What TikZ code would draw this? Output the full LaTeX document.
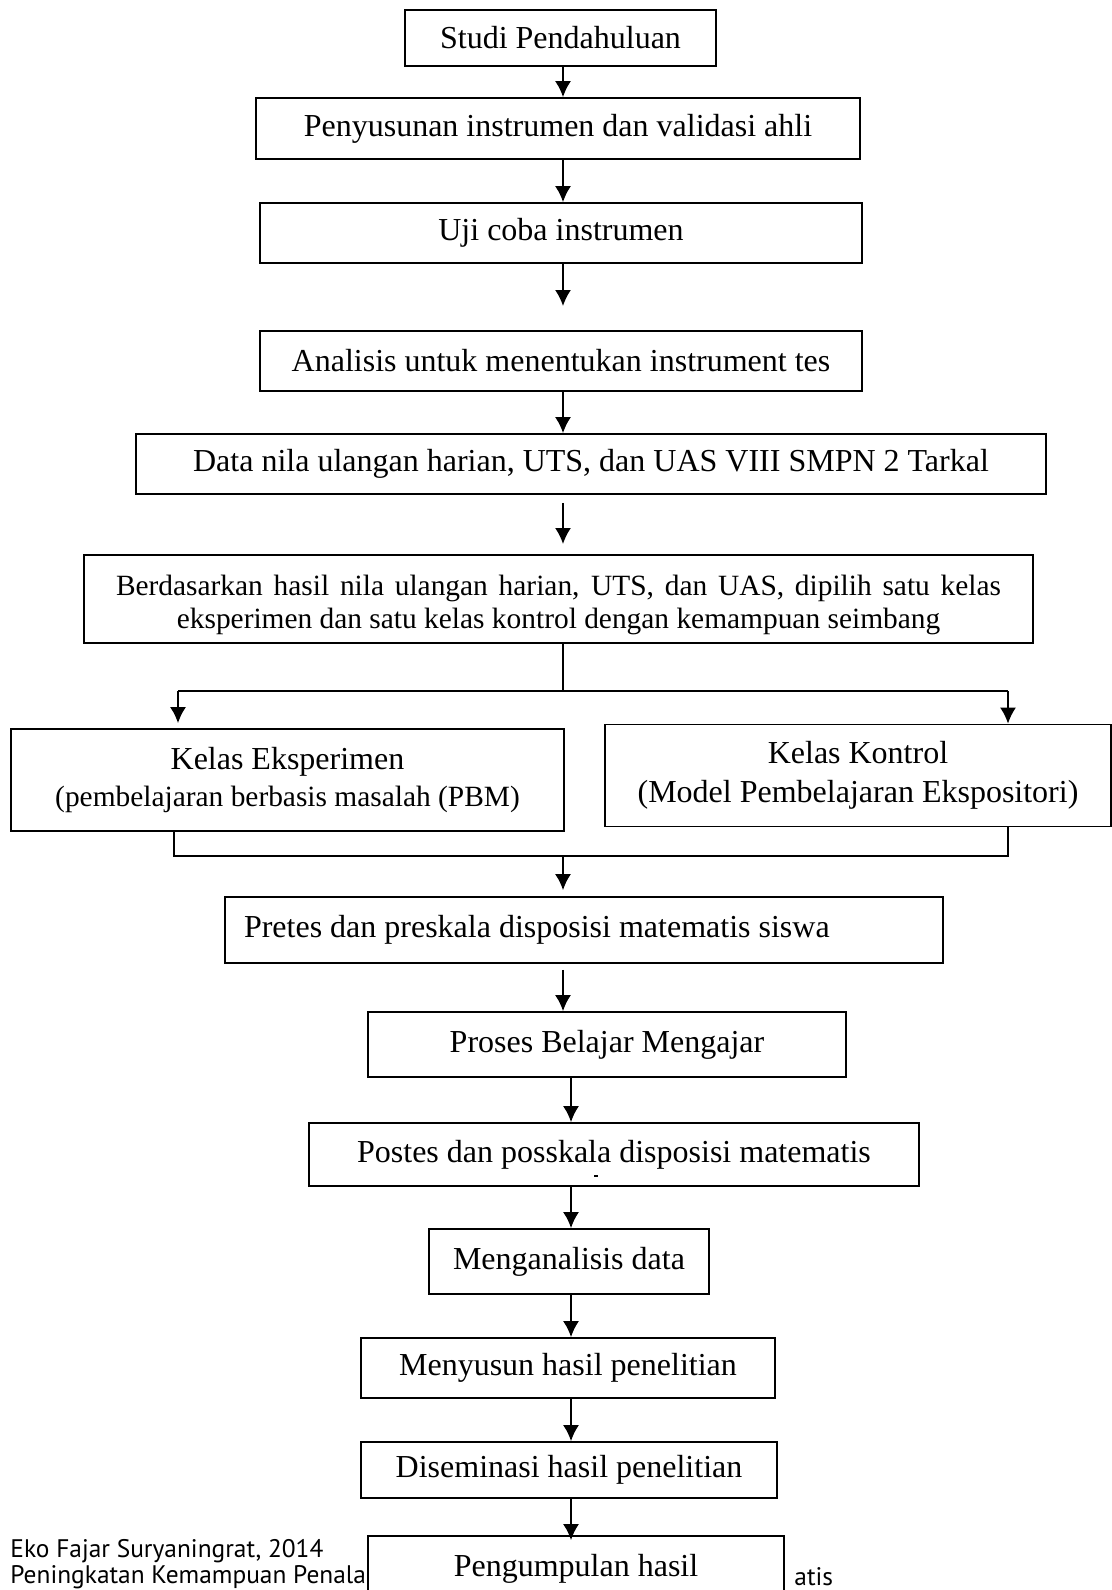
\documentclass[tikz,border=0pt]{standalone}
\usepackage{fontspec}
\setmainfont{Liberation Serif}
\newfontfamily\footfont{PT Sans}
\usepackage{tikz}
\usetikzlibrary{arrows.meta}
\tikzstyle{box} = [draw, line width=0.9pt, fill=white, inner sep=0pt, align=center, font=\fontsize{16}{19}\selectfont]
\tikzstyle{arrow} = [-{Latex[length=8pt,width=8pt]}, line width=0.9pt]
\tikzstyle{line} = [line width=0.9pt]
\tikzstyle{foot} = [anchor=west, inner sep=0pt, font=\footfont\fontsize{12.7}{15}\selectfont]
\newcommand{\smallfs}{\fontsize{14.7}{16.5}\selectfont}

\begin{document}
\begin{tikzpicture}[x=0.5pt, y=-0.5pt]
\useasboundingbox (0,0) rectangle (1112,1590);
\coordinate (spineA) at (563,0);
\coordinate (spineB) at (571,0);
% footer (partly covered by the last box)
\node[foot] (foot1) at (10,1551) {Eko Fajar Suryaningrat, 2014};
\node[foot] (foot2) at (10,1577) {Peningkatan Kemampuan Penalar};
\node[foot] (foot3) at (794,1577) {atis};
% boxes
\node[box, minimum width=155.5pt, minimum height=28pt] (studi) at (560.5,38) {Studi Pendahuluan};
\node[box, minimum width=302pt, minimum height=30.5pt] (susun) at (558,128.5) {Penyusunan instrumen dan validasi ahli};
\node[box, minimum width=301pt, minimum height=30pt] (ujicoba) at (561,233) {Uji coba instrumen};
\node[box, minimum width=301pt, minimum height=30pt] (analisis) at (561,361) {Analisis untuk menentukan instrument tes};
\node[box, minimum width=455pt, minimum height=30pt] (data) at (591,464) {Data nila ulangan harian, UTS, dan UAS VIII SMPN 2 Tarkal};
\node[box, minimum width=474.5pt, minimum height=44pt, font=\smallfs] (pilih) at (558.5,599) {\raisebox{-3pt}[\height][\depth]{\begin{tabular}{@{}c@{}}\makebox[442.5pt][s]{Berdasarkan hasil nila ulangan harian, UTS, dan UAS, dipilih satu kelas}\\eksperimen dan satu kelas kontrol dengan kemampuan seimbang\end{tabular}}};
\node[box, minimum width=276.5pt, minimum height=51pt] (eksp) at (287.5,780) {Kelas Eksperimen\\[-0.5pt]{\smallfs (pembelajaran berbasis masalah (PBM)}};
\node[box, minimum width=253pt, minimum height=51pt] (kontrol) at (858,775.5) {Kelas Kontrol\\[0.5pt](Model Pembelajaran Ekspositori)};
\node[box, align=flush left, text width=340pt, inner xsep=9.5pt, minimum height=33pt] (pretes) at (584,930) {Pretes dan preskala disposisi matematis siswa};
\node[box, minimum width=239pt, minimum height=32.5pt] (proses) at (607,1044.5) {Proses Belajar Mengajar};
\node[box, minimum width=305pt, minimum height=31.5pt] (postes) at (614,1154.5) {Postes dan posskala disposisi matematis};
\node[box, minimum width=140pt, minimum height=32.5pt] (analisa) at (569,1261.5) {Menganalisis data};
\node[box, minimum width=207pt, minimum height=30pt] (menyusun) at (568,1368) {Menyusun hasil penelitian};
\node[box, minimum width=208pt, minimum height=28pt] (disem) at (569,1470) {Diseminasi hasil penelitian};
\node[box, minimum width=208pt, minimum height=32pt, text depth=0pt] (kumpul) at (576,1568) {\raisebox{3pt}{Pengumpulan hasil}};
\fill (594,1175) rectangle (598,1177);
% free ends
\coordinate (tipA) at (563,306);
\coordinate (tipB) at (563,544);
\coordinate (split) at (563,691);
\coordinate (joinL) at (174,856);
\coordinate (joinR) at (1008,856);
% arrows
\draw[arrow] (studi.south -| spineA) -- (susun.north -| spineA);
\draw[arrow] (susun.south -| spineA) -- (ujicoba.north -| spineA);
\draw[arrow] (ujicoba.south -| spineA) -- (tipA);
\draw[arrow] (analisis.south -| spineA) -- (data.north -| spineA);
\draw[arrow, shorten <=4pt] (data.south -| spineA) -- (tipB);
\draw[line] (pilih.south -| spineA) -- (split);
\draw[line] (split) -- (178,691) coordinate (splitL);
\draw[line] (split) -- (1008,691) coordinate (splitR);
\draw[arrow, shorten >=2.5pt] (splitL) -- (eksp.north -| splitL);
\draw[arrow] (splitR) -- (kontrol.north -| splitR);
\draw[line] (eksp.south -| joinL) -- (joinL) -- (joinR) -- (kontrol.south -| joinR);
\draw[arrow, shorten >=3pt] (joinL -| spineA) -- (pretes.north -| spineA);
\draw[arrow, shorten <=3pt] (pretes.south -| spineA) -- (proses.north -| spineA);
\draw[arrow] (proses.south -| spineB) -- (postes.north -| spineB);
\draw[arrow] (postes.south -| spineB) -- (analisa.north -| spineB);
\draw[arrow] (analisa.south -| spineB) -- (menyusun.north -| spineB);
\draw[arrow] (menyusun.south -| spineB) -- (disem.north -| spineB);
\draw[arrow, shorten >=-2.5pt] (disem.south -| spineB) -- (kumpul.north -| spineB);
\end{tikzpicture}
\end{document}
